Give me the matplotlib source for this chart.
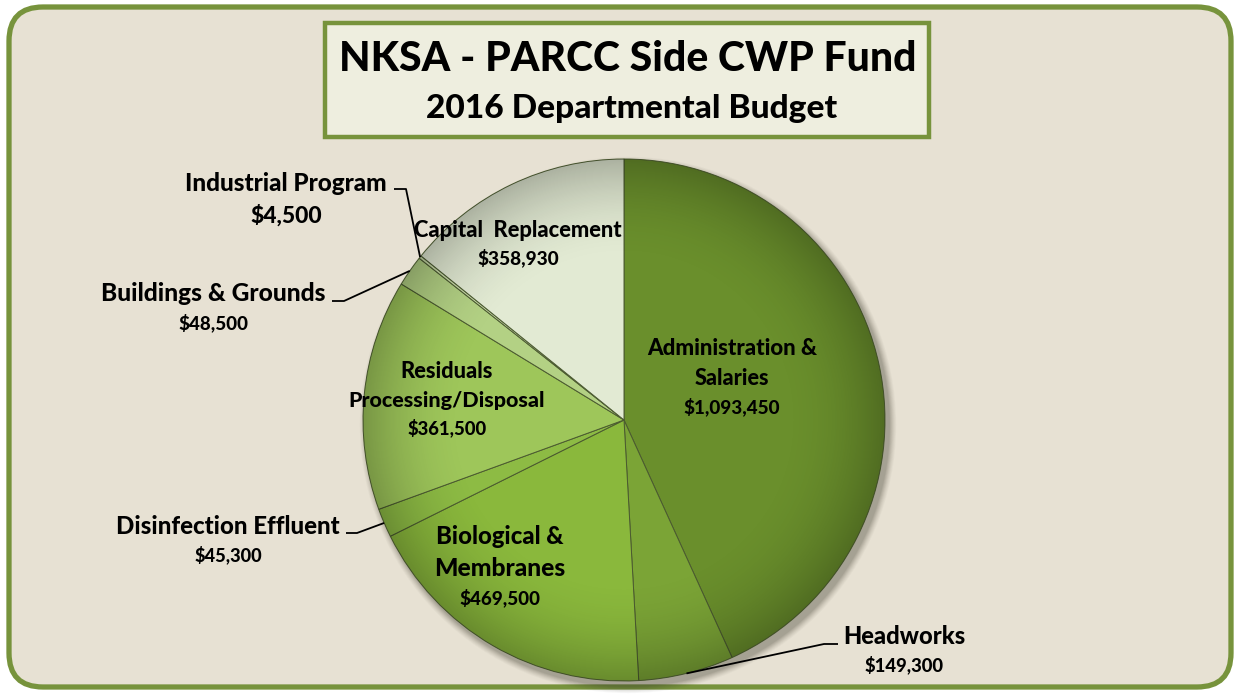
import numpy as np
import matplotlib
matplotlib.use("Agg")
import matplotlib.pyplot as plt
from matplotlib.patches import FancyBboxPatch, Rectangle, Circle

plt.rcParams["font.family"] = ["Lato", "DejaVu Sans"]

# %%
# data
categories = ["Administration & Salaries", "Headworks", "Biological & Membranes",
              "Disinfection Effluent", "Residuals Processing/Disposal",
              "Buildings & Grounds", "Industrial Program", "Capital Replacement"]
values = [1093450, 149300, 469500, 45300, 361500, 48500, 4500, 358930]
label_names = ["Administration &\nSalaries", "Headworks", "Biological &\nMembranes",
               "Disinfection Effluent", "Residuals\nProcessing/Disposal",
               "Buildings & Grounds", "Industrial Program", "Capital  Replacement"]
colors = ["#6a8f2c", "#7ba436", "#8ab83c", "#8dbb44", "#9ec65a",
          "#b3d184", "#c8daa8", "#e2ead3"]

title = "NKSA - PARCC Side CWP Fund"
subtitle = "2016 Departmental Budget"

# %%
# layout in pixel space (y measured from the top)
W, H = 1238, 694
CX, CY, R = 624, 420, 261

# per label: x centre, y of each line (name lines..., money line), fitted widths
label_layout = {
    "Administration & Salaries": (732, [348, 378, 407], [171, 75, 97]),
    "Headworks": (904, [637, 665], [123, 80]),
    "Biological & Membranes": (500, [537, 569, 598], [128, 132, 81]),
    "Disinfection Effluent": (228, [527, 555], [224, 68]),
    "Residuals Processing/Disposal": (447, [371, 400, 428], [93, 197, 80]),
    "Buildings & Grounds": (213, [293, 323], [225, 70]),
    "Industrial Program": (286, [183, 215], [203, 72]),
    "Capital Replacement": (518, [230, 258], [208, 82]),
}
# leader lines: (text end x, elbow x, y) for outside labels
leaders = {
    "Industrial Program": (394, 406, 189),
    "Buildings & Grounds": (332, 344, 301),
    "Disinfection Effluent": (346, 357, 533),
    "Headworks": (838, 824, 644),
}


def py(y):
    return H - y


fig = plt.figure(figsize=(W / 100, H / 100), dpi=100)
fig.patch.set_facecolor("white")
ax = fig.add_axes([0, 0, 1, 1])

# frame
ax.add_patch(FancyBboxPatch((9, 7), W - 16, H - 14,
                            boxstyle="round,pad=0,rounding_size=34",
                            facecolor="#e7e1d3", edgecolor="#77933c", lw=3.8, zorder=0))

# title box
ax.add_patch(Rectangle((325, py(137)), 604, 114, facecolor="#eeeedf",
                       edgecolor="#77933c", lw=3.2, zorder=2))

# pie shadow
for k, a in zip(range(8, 0, -1), np.linspace(0.03, 0.08, 8)):
    ax.add_patch(Circle((CX + 4, py(CY) - 5), R + k * 0.9, facecolor="#3a3a2a",
                        edgecolor="none", alpha=a, zorder=2))

wedges, _ = ax.pie(values, colors=colors, startangle=90, counterclock=False,
                   center=(CX, py(CY)), radius=R, frame=True,
                   wedgeprops=dict(edgecolor="#4b5a30", linewidth=0.7))
for w in wedges:
    w.set_zorder(3)

# rim darkening overlay
n = 400
gx, gy = np.meshgrid(np.linspace(-1, 1, n), np.linspace(-1, 1, n))
rr = np.sqrt(gx ** 2 + gy ** 2)
shade = np.zeros((n, n, 4))
shade[..., 3] = np.clip((rr - 0.6) / 0.4, 0, 1) ** 2 * 0.24
img = ax.imshow(shade, extent=(CX - R, CX + R, py(CY) - R, py(CY) + R),
                origin="lower", zorder=4, interpolation="bilinear")
img.set_clip_path(Circle((CX, py(CY)), R, transform=ax.transData))

ax.set_xlim(0, W)
ax.set_ylim(0, H)
ax.set_aspect("equal")
ax.axis("off")

fig.canvas.draw()
renderer = fig.canvas.get_renderer()


def fit_text(x, y, s, width, base=14):
    t = ax.text(x, py(y), s, ha="center", va="center", fontsize=base,
                fontweight="black", color="black", zorder=6)
    wpx = t.get_window_extent(renderer).width
    t.set_fontsize(base * width / wpx)
    return t


fit_text(628, 59, title, 577, base=28)
fit_text(632, 108, subtitle, 411, base=20)

for cat, name, val in zip(categories, label_names, values):
    x, ys, ws = label_layout[cat]
    lines = name.split("\n") + [f"${val:,}"]
    for s, y, wd in zip(lines, ys, ws):
        fit_text(x, y, s, wd)

# leader lines from wedge mid angle on the rim
for w, cat in zip(wedges, categories):
    if cat not in leaders:
        continue
    tx, ex, ly = leaders[cat]
    ang = np.deg2rad((w.theta1 + w.theta2) / 2)
    rx = CX + R * np.cos(ang)
    ry = py(CY) + R * np.sin(ang)
    ax.plot([tx, ex, rx], [py(ly), py(ly), ry], color="black", lw=1.3,
            zorder=6, solid_capstyle="butt")

fig.savefig("out.png", dpi=100, facecolor=fig.get_facecolor())
